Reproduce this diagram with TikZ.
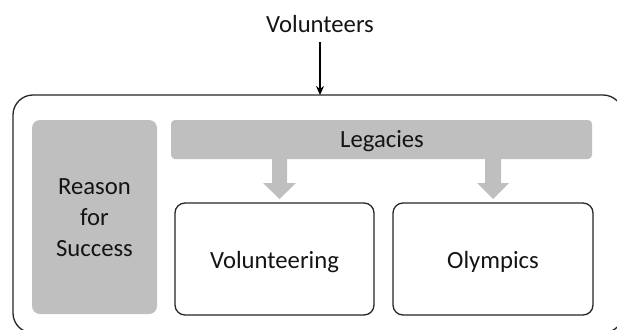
\documentclass[tikz,border=0pt]{standalone}
\usepackage{fontspec}
\setmainfont{Carlito}
\usetikzlibrary{arrows.meta}
\definecolor{boxgray}{HTML}{BFBFBF}
\definecolor{linegray}{HTML}{262626}
\definecolor{txt}{HTML}{141414}
\begin{document}
\begin{tikzpicture}[x=1pt,y=-1pt,
  lbl/.style={font=\fontsize{24.7}{30}\selectfont, text=txt, align=center},
  graybox/.style={fill=boxgray, draw=none, rounded corners=8pt},
  whitebox/.style={draw=linegray, line width=1.3pt, fill=white, rounded corners=10pt},
  bigarrow/.style={fill=boxgray, draw=none}]
\useasboundingbox (0,0) rectangle (617,329);
\clip (0,0) rectangle (617,329);
% outer frame
\draw[draw=linegray, line width=1.3pt, rounded corners=20pt] (13,95) rectangle (623,333);
% title and arrow
\node[lbl] (vol) at (320,24) {Volunteers};
\coordinate (frametop) at (320,95);
\draw[line width=2pt, -{Stealth[length=9pt,width=8pt]}] (320,42) -- (frametop);
% reason box
\node[graybox, minimum width=125pt, minimum height=194pt] (reason) at (94.5,217) {};
\node[lbl, text width=120pt] (reasontxt) at (94.5,218) {Reason\\[1pt]for\\[1pt]Success};
% legacies bar
\node[graybox, rounded corners=4pt, minimum width=421pt, minimum height=39pt] (leg) at (381.5,139.5) {};
\node[lbl] (legtxt) at (382,141) {Legacies};
% boxes
\node[whitebox, minimum width=199pt, minimum height=112pt] (vbox) at (274.5,259) {};
\node[lbl] (vtxt) at (274.5,262) {Volunteering};
\node[whitebox, minimum width=200pt, minimum height=112pt] (obox) at (493,259) {};
\node[lbl] (otxt) at (493,262) {Olympics};
% block arrows
\fill[bigarrow] (272,159) -- (287,159) -- (287,183) -- (296,183) -- (279.5,199) -- (263,183) -- (272,183) -- cycle;
\fill[bigarrow] (485,159) -- (501,159) -- (501,183) -- (509,183) -- (493,199) -- (477,183) -- (485,183) -- cycle;
\end{tikzpicture}
\end{document}
